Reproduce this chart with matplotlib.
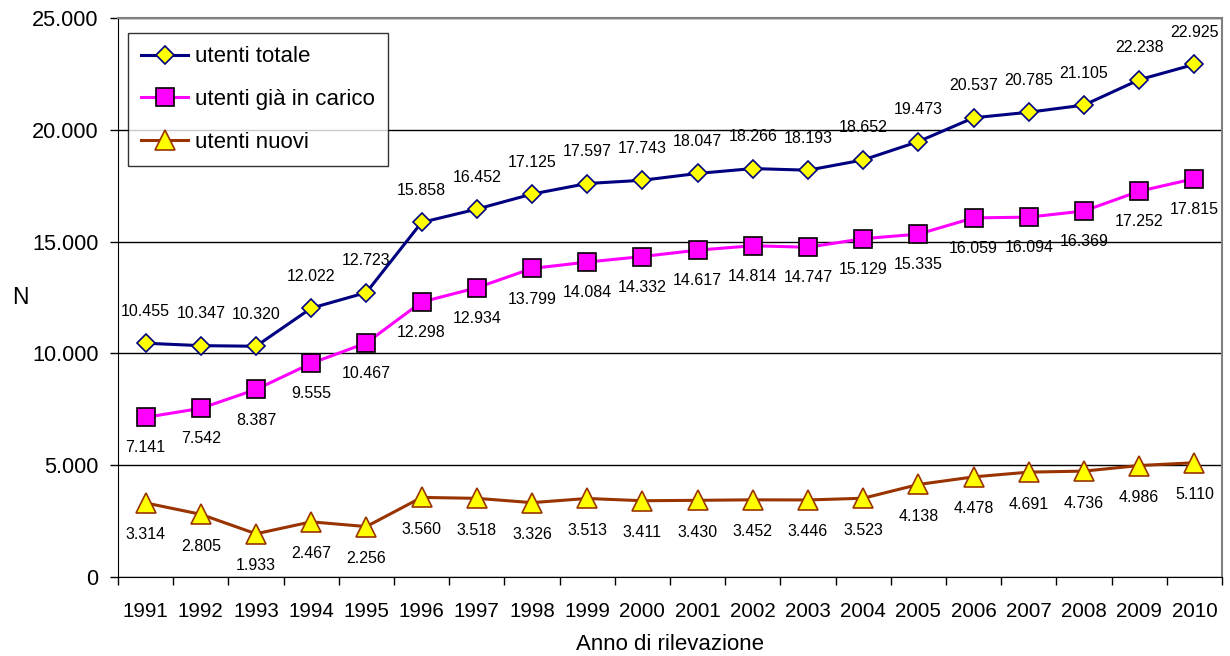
import matplotlib
matplotlib.use("Agg")
import matplotlib.pyplot as plt
from matplotlib.ticker import FuncFormatter, FixedLocator

plt.rcParams["font.family"] = ["Liberation Sans", "DejaVu Sans"]

years = [str(y) for y in range(1991, 2011)]
totale = [10455, 10347, 10320, 12022, 12723, 15858, 16452, 17125, 17597, 17743,
          18047, 18266, 18193, 18652, 19473, 20537, 20785, 21105, 22238, 22925]
in_carico = [7141, 7542, 8387, 9555, 10467, 12298, 12934, 13799, 14084, 14332,
             14617, 14814, 14747, 15129, 15335, 16059, 16094, 16369, 17252, 17815]
nuovi = [3314, 2805, 1933, 2467, 2256, 3560, 3518, 3326, 3513, 3411,
         3430, 3452, 3446, 3523, 4138, 4478, 4691, 4736, 4986, 5110]


def fmt_it(v):
    return f"{int(v):,}".replace(",", ".")


fig = plt.figure(figsize=(12.3, 6.56), dpi=100)
ax = fig.add_axes([0.0959, 0.1204, 0.8976, 0.8522])
x = list(range(len(years)))

ax.plot(x, totale, color="#000080", lw=2.2, marker="D", ms=9,
        mfc="#FFFF00", mec="#000080", mew=1.2, label="utenti totale", zorder=4)
ax.plot(x, in_carico, color="#FF00FF", lw=2.2, marker="s", ms=12.5,
        mfc="#FF00FF", mec="black", mew=1.2, label="utenti già in carico", zorder=4)
ax.plot(x, nuovi, color="#993300", lw=2.2, marker="^", ms=14,
        mfc="#FFFF00", mec="#993300", mew=1.2, label="utenti nuovi", zorder=4)

for xi, v in zip(x, totale):
    ax.annotate(fmt_it(v), (xi, v), xytext=(0, 23), textcoords="offset points",
                ha="center", va="center", fontsize=11.5)
for xi, v in zip(x, in_carico):
    ax.annotate(fmt_it(v), (xi, v), xytext=(0, -22), textcoords="offset points",
                ha="center", va="center", fontsize=11.5)
for xi, v in zip(x, nuovi):
    ax.annotate(fmt_it(v), (xi, v), xytext=(0, -23), textcoords="offset points",
                ha="center", va="center", fontsize=11.5)

ax.set_xlim(-0.5, len(years) - 0.5)
ax.set_ylim(0, 25000)
ax.set_yticks(range(0, 25001, 5000))
ax.yaxis.set_major_formatter(FuncFormatter(lambda v, p: fmt_it(v)))
ax.set_xticks(x)
ax.set_xticklabels(years)
ax.xaxis.set_minor_locator(FixedLocator([i - 0.5 for i in range(len(years) + 1)]))
ax.tick_params(axis="x", which="major", length=0, pad=18, labelsize=14.8)
ax.tick_params(axis="x", which="minor", length=6, width=1, direction="out")
ax.tick_params(axis="y", length=6, width=1, direction="out", pad=8, labelsize=15.7)

ax.yaxis.grid(True, color="black", lw=1)
ax.set_axisbelow(True)
for side in ("top", "right"):
    ax.spines[side].set_color("#808080")
    ax.spines[side].set_linewidth(1.5)
for side in ("left", "bottom"):
    ax.spines[side].set_color("black")

ax.set_xlabel("Anno di rilevazione", fontsize=16, labelpad=9)
ax.set_ylabel("N", fontsize=16.5, rotation=0, va="center", ha="center")
ax.yaxis.set_label_coords(-0.088, 0.5)

leg = ax.legend(loc="upper left", bbox_to_anchor=(0.009, 0.973), fontsize=16,
                frameon=True, fancybox=False, edgecolor="black",
                handlelength=2.1, handletextpad=0.3, labelspacing=0.98,
                borderpad=0.6, borderaxespad=0)
leg.get_frame().set_linewidth(1)

fig.savefig("out.png", dpi=100)
